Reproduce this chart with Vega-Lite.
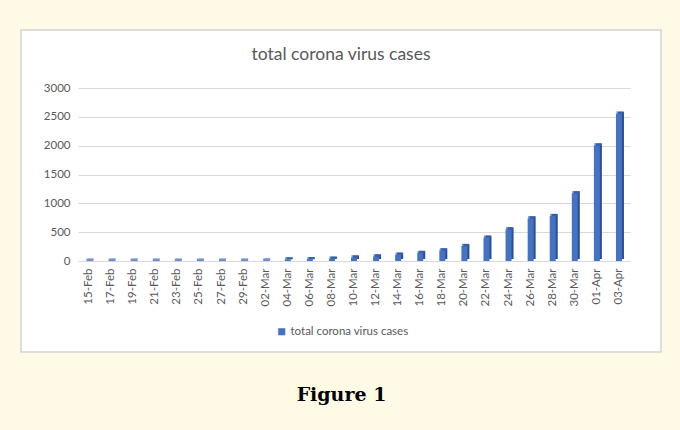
{
  "$schema": "https://vega.github.io/schema/vega-lite/v6.json",
  "autosize": {"type": "none"},
  "width": 640,
  "height": 322,
  "padding": {"left": 21, "top": 30, "right": 19, "bottom": 78},
  "background": "#fffae6",
  "view": {"fill": "white", "stroke": "#d4d4d4", "strokeWidth": 1.5},
  "title": {
    "text": "total corona virus cases",
    "font": "Lato",
    "fontSize": 17.5,
    "fontWeight": "normal",
    "color": "#595959",
    "anchor": "middle",
    "offset": -33
  },
  "data": {
    "values": [
      {"date": "15-Feb", "cases": 3, "series": "total corona virus cases"},
      {"date": "17-Feb", "cases": 3, "series": "total corona virus cases"},
      {"date": "19-Feb", "cases": 3, "series": "total corona virus cases"},
      {"date": "21-Feb", "cases": 3, "series": "total corona virus cases"},
      {"date": "23-Feb", "cases": 3, "series": "total corona virus cases"},
      {"date": "25-Feb", "cases": 3, "series": "total corona virus cases"},
      {"date": "27-Feb", "cases": 3, "series": "total corona virus cases"},
      {"date": "29-Feb", "cases": 3, "series": "total corona virus cases"},
      {"date": "02-Mar", "cases": 5, "series": "total corona virus cases"},
      {"date": "04-Mar", "cases": 28, "series": "total corona virus cases"},
      {"date": "06-Mar", "cases": 31, "series": "total corona virus cases"},
      {"date": "08-Mar", "cases": 40, "series": "total corona virus cases"},
      {"date": "10-Mar", "cases": 62, "series": "total corona virus cases"},
      {"date": "12-Mar", "cases": 80, "series": "total corona virus cases"},
      {"date": "14-Mar", "cases": 110, "series": "total corona virus cases"},
      {"date": "16-Mar", "cases": 140, "series": "total corona virus cases"},
      {"date": "18-Mar", "cases": 185, "series": "total corona virus cases"},
      {"date": "20-Mar", "cases": 260, "series": "total corona virus cases"},
      {"date": "22-Mar", "cases": 405, "series": "total corona virus cases"},
      {"date": "24-Mar", "cases": 550, "series": "total corona virus cases"},
      {"date": "26-Mar", "cases": 740, "series": "total corona virus cases"},
      {"date": "28-Mar", "cases": 780, "series": "total corona virus cases"},
      {"date": "30-Mar", "cases": 1175, "series": "total corona virus cases"},
      {"date": "01-Apr", "cases": 2005, "series": "total corona virus cases"},
      {"date": "03-Apr", "cases": 2555, "series": "total corona virus cases"}
    ]
  },
  "encoding": {
    "x": {
      "field": "date",
      "type": "nominal",
      "sort": null,
      "scale": {"range": [57, 609], "paddingInner": 0, "paddingOuter": 0},
      "axis": {
        "orient": "bottom",
        "offset": -87,
        "labelAngle": -90,
        "labelAlign": "right",
        "labelBaseline": "middle",
        "labelPadding": 3,
        "ticks": false,
        "domain": false,
        "grid": false,
        "labelFont": "Lato",
        "labelFontSize": 11.5,
        "labelColor": "#595959",
        "title": "Figure 1",
        "titleFont": "DejaVu Serif",
        "titleFontSize": 19,
        "titleFontWeight": "bold",
        "titleColor": "black",
        "titleX": 320,
        "titleY": 135,
        "titleBaseline": "alphabetic",
        "titleAnchor": "middle",
        "titleAlign": "center"
      }
    },
    "y": {
      "field": "cases",
      "type": "quantitative",
      "scale": {"domain": [0, 3000], "range": [231, 58], "nice": false},
      "axis": {
        "orient": "left",
        "offset": -52,
        "values": [0, 500, 1000, 1500, 2000, 2500, 3000],
        "format": "d",
        "labelPadding": 3,
        "ticks": false,
        "domain": false,
        "grid": true,
        "gridColor": "#d9d9d9",
        "gridWidth": 1,
        "labelFont": "Lato",
        "labelFontSize": 11.5,
        "labelColor": "#595959",
        "title": null
      }
    }
  },
  "layer": [
    {
      "mark": {"type": "bar", "size": 6, "xOffset": 2, "yOffset": -2, "color": "#2b4f8f"}
    },
    {
      "mark": {"type": "bar", "size": 6},
      "encoding": {
        "color": {
          "field": "series",
          "type": "nominal",
          "scale": {"range": ["#4472c4"]},
          "legend": {
            "orient": "none",
            "legendX": 255,
            "legendY": 296,
            "title": null,
            "symbolType": "square",
            "symbolSize": 50,
            "symbolStrokeWidth": 0,
            "labelFont": "Lato",
            "labelFontSize": 11.5,
            "labelColor": "#595959",
            "labelOffset": 3
          }
        }
      }
    },
    {
      "mark": {"type": "tick", "size": 7, "thickness": 2.5, "xOffset": 1, "yOffset": -1, "color": "#3a66b8"}
    }
  ]
}
